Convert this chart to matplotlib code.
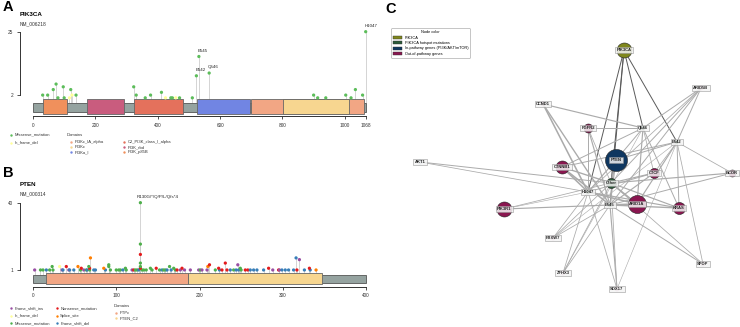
import numpy as np
import matplotlib.pyplot as plt
from matplotlib.patches import Rectangle, Patch

plt.rcParams['font.family'] = ['Liberation Sans', 'DejaVu Sans']

W, H = 740, 327

# ---------------- data: PIK3CA lollipop ----------------
pik_len = 1068
pik_ticks = [0, 200, 400, 600, 800, 1000, 1068]
pik_dom_names = ['PI3K_p85B', 'PI3K_rbd', 'C2_PI3K_class_I_alpha', 'PI3Ka_I', 'PI3Kc_IA_alpha', 'PI3Kc']
pik_dom_start = [31, 174, 324, 525, 698, 801]
pik_dom_end = [108, 292, 482, 696, 1062, 1014]
pik_dom_col = ['#F0905C', '#C95C7E', '#E4715C', '#7185E3', '#F2A684', '#F7D690']
pik_pos = [31, 47, 65, 74, 80, 97, 100, 117, 121, 125, 138, 323, 331, 360, 377, 412, 425, 442,
           447, 458, 470, 511, 524, 532, 565, 900, 913, 939, 1003, 1020, 1034, 1057, 1067]
pik_cnt = [2, 2, 4, 6, 1, 5, 1, 1, 4, 2, 2, 5, 2, 1, 2, 3, 1, 1,
           1, 1, 1, 1, 9, 16, 10, 2, 1, 1, 2, 1, 4, 2, 25]
pik_type = ['M'] * len(pik_pos)
for i in [7, 9, 16, 19]:
    pik_type[i] = 'D'
pik_labels = {524: 'E542', 532: 'E545', 565: 'Q546', 1067: 'H1047'}

# ---------------- data: PTEN lollipop ----------------
pten_len = 400
pten_ticks = [0, 100, 200, 300, 400]
pten_dom_names = ['PTPc', 'PTEN_C2']
pten_dom_start = [16, 186]
pten_dom_end = [186, 347]
pten_dom_col = ['#F2A684', '#F7D690']
# single hits (count 1)
pten1_pos = [2, 9, 12, 16, 20, 24, 35, 36, 43, 44, 49, 57, 61, 64, 65, 68, 73, 75, 87, 93,
             100, 103, 105, 108, 112, 119, 121, 123, 125, 127, 131, 133, 136, 143, 152, 155,
             157, 159, 161, 166, 171, 173, 177, 182, 189, 199, 201, 203, 209, 219, 224, 227,
             233, 237, 241, 244, 247, 250, 255, 258, 261, 265, 269, 277, 288, 295, 296, 299,
             303, 307, 313, 317, 326, 333, 340]
pten1_type = ['FI', 'MS', 'MS', 'FD', 'MS', 'MS', 'FI', 'FD', 'FI', 'FD', 'FD', 'MS', 'FI', 'MS',
              'FD', 'MS', 'FD', 'FD', 'FD', 'MS', 'MS', 'MS', 'MS', 'FD', 'MS', 'FI', 'NS', 'MS',
              'MS', 'FD', 'MS', 'MS', 'MS', 'MS', 'MS', 'FD', 'MS', 'MS', 'FD', 'FD', 'MS', 'NS',
              'FI', 'FI', 'FI', 'FI', 'MS', 'FI', 'FI', 'MS', 'FD', 'NS', 'NS', 'FD', 'MS', 'FD',
              'FD', 'MS', 'NS', 'NS', 'FD', 'FD', 'FD', 'FD', 'FI', 'NS', 'FI', 'FD', 'FD', 'FD',
              'FD', 'NS', 'FD', 'FD', 'SP']
# stacked / recurrent hits
pten2_pos = [23, 32, 40, 54, 58, 67, 68, 69, 85, 91, 91, 111, 129, 129, 129, 129, 129, 129,
             141, 148, 164, 169, 179, 210, 212, 223, 231, 246, 249, 283, 316, 320, 332]
pten2_cnt = [3, 3, 3, 3, 2, 3, 2, 8, 2, 4, 3, 2, 40, 16, 10, 5, 3, 2,
             2, 2, 3, 2, 2, 3, 4, 2, 5, 4, 2, 2, 8, 7, 2]
pten2_type = ['MS', 'ID', 'NS', 'SP', 'NS', 'MS', 'NS', 'SP', 'SP', 'MS', 'MS', 'MS', 'MS', 'MS',
              'NS', 'MS', 'MS', 'NS', 'MS', 'NS', 'MS', 'MS', 'NS', 'SP', 'NS', 'NS', 'NS', 'FI',
              'MS', 'NS', 'FD', 'FI', 'NS']
pten_label_pos = 129
pten_label = 'R130G/*/Q/P/L/Qfs*4'

mut_col = {'M': '#5CBD5A', 'D': '#FFFF99', 'FI': '#984EA3', 'ID': '#FFFF99', 'MS': '#4DAF4A',
           'NS': '#E41A1C', 'SP': '#FF7F00', 'FD': '#377EB8'}

# ---------------- data: network ----------------
node_names = ['PIK3CA', 'PTEN', 'AKT1', 'Other', 'E545', 'E542', 'Q546', 'H1047',
              'ARID1A', 'PIK3R1', 'CTNNB1', 'KRAS', 'CTCF', 'FGFR2', 'BCOR',
              'ARID5B', 'CCND1', 'FBXW7', 'SPOP', 'ZFHX3', 'SOX17']
node_group = ['pik', 'path', 'path', 'hot', 'hot', 'hot', 'hot', 'hot',
              'out', 'out', 'out', 'out', 'out', 'out', 'out',
              'out', 'out', 'out', 'out', 'out', 'out']
node_size = [15, 22, 5, 10, 4, 4, 4, 4, 18, 15, 13, 12, 10, 9, 7, 5, 5, 5, 5, 5, 5]
node_x = [624, 616, 420, 611, 610, 677, 643, 588, 637, 504, 562, 679, 654, 588, 732,
          701, 543, 553, 703, 563, 617]
node_y = [50, 160, 162, 183, 205, 142, 128, 192, 204, 209, 167, 208, 173, 128, 173,
          88, 104, 238, 264, 273, 289]
edges = [('PIK3CA', 'H1047', 0.5), ('PIK3CA', 'E545', 0.5), ('PIK3CA', 'E542', 0.5),
         ('PIK3CA', 'Q546', 0.5), ('PIK3CA', 'Other', 0.5), ('PTEN', 'Other', 0.8),
         ('PTEN', 'E545', 0.6), ('PTEN', 'H1047', 0.6), ('PTEN', 'E542', 0.5), ('PTEN', 'Q546', 0.5),
         ('AKT1', 'Other', 0.5), ('AKT1', 'H1047', 0.4),
         ('PIK3R1', 'E545', 0.6), ('PIK3R1', 'H1047', 0.3), ('PIK3R1', 'Other', 0.4),
         ('CTNNB1', 'E545', 0.8), ('CTNNB1', 'H1047', 0.8), ('CTNNB1', 'Other', 0.7),
         ('CTNNB1', 'E542', 0.5), ('CTNNB1', 'Q546', 0.5),
         ('FGFR2', 'H1047', 0.5), ('FGFR2', 'E545', 0.6), ('FGFR2', 'Q546', 0.5), ('FGFR2', 'Other', 0.4),
         ('CCND1', 'Q546', 0.6), ('CCND1', 'H1047', 0.8), ('CCND1', 'E545', 0.7),
         ('ARID5B', 'E542', 0.5), ('ARID5B', 'Q546', 0.5), ('ARID5B', 'Other', 0.5),
         ('ARID5B', 'E545', 0.5), ('ARID5B', 'H1047', 0.4),
         ('CTCF', 'Other', 0.6), ('CTCF', 'E545', 0.6), ('CTCF', 'H1047', 0.5),
         ('CTCF', 'E542', 0.4), ('CTCF', 'Q546', 0.4),
         ('BCOR', 'Other', 0.6), ('BCOR', 'E542', 0.4), ('BCOR', 'E545', 0.5),
         ('KRAS', 'E545', 0.7), ('KRAS', 'H1047', 0.6), ('KRAS', 'E542', 0.5),
         ('KRAS', 'Q546', 0.5), ('KRAS', 'Other', 0.6),
         ('ARID1A', 'E545', 0.9), ('ARID1A', 'Other', 0.8), ('ARID1A', 'H1047', 0.8),
         ('ARID1A', 'E542', 0.6), ('ARID1A', 'Q546', 0.6),
         ('SPOP', 'E545', 0.5), ('SPOP', 'E542', 0.4), ('SPOP', 'Other', 0.4),
         ('FBXW7', 'E545', 0.4), ('FBXW7', 'H1047', 0.4), ('FBXW7', 'Other', 0.4), ('FBXW7', 'E542', 0.3),
         ('ZFHX3', 'E545', 0.4), ('ZFHX3', 'H1047', 0.4), ('ZFHX3', 'Other', 0.4), ('ZFHX3', 'Q546', 0.3),
         ('SOX17', 'E545', 0.6), ('SOX17', 'Other', 0.4), ('SOX17', 'H1047', 0.4), ('SOX17', 'E542', 0.3)]
group_col = {'pik': '#7F871C', 'hot': '#2B5A39', 'path': '#0F3760', 'out': '#8A1650'}
group_lab = ['PIK3CA', 'PIK3CA hotspot mutations', 'In-pathway genes (PI3K/AKT/mTOR)', 'Out-of-pathway genes']

fig = plt.figure(figsize=(W / 100, H / 100), dpi=100)

# overlay axes in pixel units (texts, legends, network)
ov = fig.add_axes([0, 0, 1, 1])
ov.set_xlim(0, W)
ov.set_ylim(H, 0)
ov.axis('off')


def lin_axes(box, xmap, ymap):
    l, t, r, b = box
    ax = fig.add_axes([l / W, 1 - b / H, (r - l) / W, (b - t) / H])
    ax.patch.set_alpha(0)
    d0, p0, d1, p1 = xmap
    k = (d1 - d0) / (p1 - p0)
    ax.set_xlim(d0 + (l - p0) * k, d0 + (r - p0) * k)
    d0, p0, d1, p1 = ymap
    k = (d1 - d0) / (p1 - p0)
    ax.set_ylim(d0 + (b - p0) * k, d0 + (t - p0) * k)
    return ax


def lollipop(ax, length, ticks, xpx, ypx, bar, dom, pos, cnt, cols, ytick):
    xa = lambda p: (p - xpx[0]) * length / (xpx[1] - xpx[0])
    ya = lambda p: (ypx[0] - p) / ypx[1]
    b0, b1, d0, d1, axis_y = bar
    ax.vlines(pos, ya(b0), cnt, color='#C4C4C4', lw=0.5, zorder=1)
    ax.add_patch(Rectangle((0, ya(b1)), length, ya(b0) - ya(b1), fc='#95A3A0', ec='#555555', lw=0.6, zorder=2))
    for s, e, c in zip(*dom):
        ax.add_patch(Rectangle((s, ya(d1)), e - s, ya(d0) - ya(d1), fc=c, ec='#666666', lw=0.6, zorder=3))
    order = np.argsort(cnt)
    ax.scatter(np.array(pos)[order], np.array(cnt)[order], s=5.5, c=np.array(cols)[order],
               linewidths=0, zorder=4)
    for sp in ['top', 'right']:
        ax.spines[sp].set_visible(False)
    ax.spines['left'].set_position(('data', xa(20)))
    ax.spines['left'].set_bounds(ytick[0], ytick[1])
    ax.spines['bottom'].set_position(('data', ya(axis_y)))
    ax.spines['bottom'].set_bounds(0, length)
    for sp in ['left', 'bottom']:
        ax.spines[sp].set_linewidth(0.7)
        ax.spines[sp].set_color('#333333')
    ax.set_yticks(ytick)
    ax.set_xticks(ticks)
    ax.tick_params(length=2.2, width=0.6, labelsize=3.4, pad=2.5, colors='#333333')


# ---------------- panel A ----------------
axa = lin_axes((5, 20, 372, 130), (0, 33, 1068, 366), (0, 100.6, 25, 31.7))
lollipop(axa, pik_len, pik_ticks, (33, 366), (100.6, 2.756), (103.3, 111.7, 99.3, 114, 116),
         (pik_dom_start, pik_dom_end, pik_dom_col), pik_pos, pik_cnt,
         [mut_col[t] for t in pik_type], [2, 25])
for p, lab in pik_labels.items():
    c = pik_cnt[pik_pos.index(p)]
    axa.annotate(lab, (p, c), xytext=(-0.8, 2.6), textcoords='offset points',
                 ha='left', va='bottom', fontsize=3.2, color='#222222')

# ---------------- panel B ----------------
pten_pos = pten1_pos + pten2_pos
pten_cnt = [1] * len(pten1_pos) + pten2_cnt
pten_cols = [mut_col[t] for t in pten1_type + pten2_type]
axb = lin_axes((5, 190, 372, 300), (0, 33, 400, 366), (0, 271.7, 40, 202.7))
lollipop(axb, pten_len, pten_ticks, (33, 366), (271.7, 1.726), (275, 282.7, 273.3, 284.3, 286.7),
         (pten_dom_start, pten_dom_end, pten_dom_col), pten_pos, pten_cnt, pten_cols, [1, 40])
axb.annotate(pten_label, (pten_label_pos, 40), xytext=(-3, 2.6), textcoords='offset points',
             ha='left', va='bottom', fontsize=3.2, color='#222222')

# ---------------- titles and lollipop legends ----------------
for lab, x, y in [('A', 3, 7), ('B', 3, 173), ('C', 385, 9)]:
    ov.text(x, y, lab, fontsize=10.5, fontweight='bold', va='center', ha='left')
ov.text(20, 14.5, 'PIK3CA', fontsize=4.5, fontweight='bold', va='center')
ov.text(20, 23.5, 'NM_006218', fontsize=3.5, va='center', color='#333333')
ov.text(20, 184.5, 'PTEN', fontsize=4.5, fontweight='bold', va='center')
ov.text(20, 193.5, 'NM_000314', fontsize=3.5, va='center', color='#333333')


def legend_items(items, x, y0, dy):
    for i, (lab, col) in enumerate(items):
        ov.scatter([x], [y0 + i * dy], s=3, c=col, linewidths=0)
        ov.text(x + 3.5, y0 + i * dy, lab, fontsize=3, va='center', color='#333333')


legend_items([('Missense_mutation', mut_col['M']), ('In_frame_del', mut_col['D'])], 10.7, 134.5, 8.3)
ov.text(66.7, 135, 'Domains', fontsize=3, va='center', color='#333333')
legend_items([('PI3Kc_IA_alpha', pik_dom_col[4]), ('PI3Kc', pik_dom_col[5]), ('PI3Ka_I', pik_dom_col[3])],
             70.7, 142.3, 5)
legend_items([('C2_PI3K_class_I_alpha', pik_dom_col[2]), ('PI3K_rbd', pik_dom_col[1]),
              ('PI3K_p85B', pik_dom_col[0])], 124, 142.3, 5)

legend_items([('Frame_shift_ins', mut_col['FI']), ('In_frame_del', mut_col['ID']),
              ('Missense_mutation', mut_col['MS'])], 10.7, 308.3, 7.5)
legend_items([('Nonsense_mutation', mut_col['NS']), ('Splice_site', mut_col['SP']),
              ('Frame_shift_del', mut_col['FD'])], 56.7, 308.3, 7.5)
ov.text(113.3, 306, 'Domains', fontsize=3, va='center', color='#333333')
legend_items([('PTPc', pten_dom_col[0]), ('PTEN_C2', pten_dom_col[1])], 116, 312.7, 5.6)

# ---------------- panel C: network ----------------
idx = {n: i for i, n in enumerate(node_names)}
for a, b, w in edges:
    ia, ib = idx[a], idx[b]
    col = '#5A5A5A' if a == 'PIK3CA' else '#ABABAB'
    ov.plot([node_x[ia], node_x[ib]], [node_y[ia], node_y[ib]], color=col, lw=w * 1.4, zorder=2,
            solid_capstyle='round')
for i, n in enumerate(node_names):
    light = node_size[i] <= 5
    ov.scatter([node_x[i]], [node_y[i]], s=(node_size[i] * 0.72) ** 2, c=group_col[node_group[i]],
               alpha=0.3 if light and node_group[i] != 'hot' else 1.0,
               edgecolors='#222222' if not light else 'none', linewidths=0.4, zorder=3)
    ov.text(node_x[i], node_y[i], n, fontsize=3, fontweight='bold', ha='center', va='center',
            color='#222222', zorder=4,
            bbox=dict(boxstyle='square,pad=0.3', fc='#F4F4F4', ec='#8A8A8A', lw=0.4, alpha=0.85))

handles = [Patch(fc=group_col[g], ec='#333333', lw=0.3) for g in ['pik', 'hot', 'path', 'out']]
leg = ov.legend(handles, group_lab, title='Node color', loc='upper left',
                bbox_to_anchor=(389 / W, 1 - 26.5 / H), bbox_transform=fig.transFigure,
                fontsize=2.8, title_fontsize=2.8, handlelength=2.4, handleheight=0.9,
                labelspacing=0.35, borderpad=0.5, handletextpad=0.6, frameon=True,
                fancybox=True, edgecolor='#999999')
leg.get_frame().set_linewidth(0.5)

fig.savefig('out.png', dpi=100)
